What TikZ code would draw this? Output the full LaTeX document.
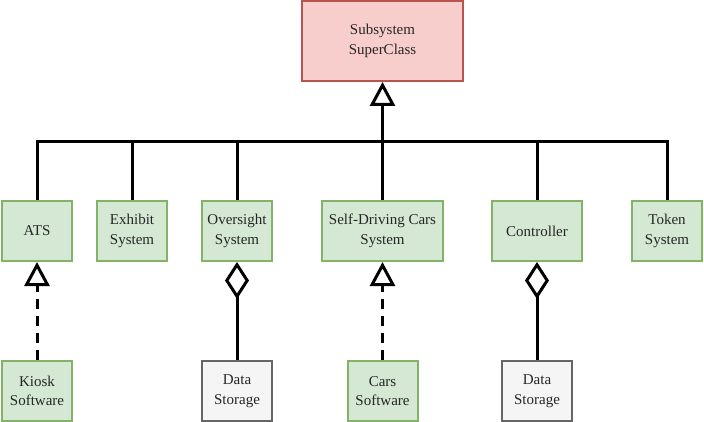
\documentclass[tikz,border=0pt]{standalone}
\usepackage{fontspec}
\setmainfont{Liberation Serif}
\usetikzlibrary{arrows.meta}
\definecolor{redfill}{HTML}{F8CECC}
\definecolor{redline}{HTML}{B85450}
\definecolor{greenfill}{HTML}{D5E8D4}
\definecolor{greenline}{HTML}{82B366}
\definecolor{greyfill}{HTML}{F5F5F5}
\definecolor{greyline}{HTML}{666666}
\begin{document}
\begin{tikzpicture}[x=1pt,y=-1pt,line width=3pt,
    box/.style={draw,line width=2pt,align=center,inner sep=0pt,
      minimum height=60pt,font=\fontsize{15}{19.5}\selectfont,text=black!85},
    super/.style={box,fill=redfill,draw=redline,minimum width=161pt,minimum height=80pt},
    sub/.style={box,fill=greenfill,draw=greenline},
    store/.style={box,fill=greyfill,draw=greyline},
    inherit/.style={-{Triangle[open,length=24pt,width=25pt,line width=3pt]}},
    realize/.style={inherit,dash pattern=on 10pt off 7pt},
    aggregate/.style={{Diamond[open,length=37pt,width=24pt,line width=3pt]}-}]
  \useasboundingbox (0,0) rectangle (704,422);
  % top class
  \node[super] (sup) at (382.5,41) {Subsystem\\SuperClass};
  % subsystems
  \node[sub,minimum width=70pt] (ats) at (37,231) {ATS};
  \node[sub,minimum width=70pt] (exhibit) at (132,231) {Exhibit\\System};
  \node[sub,minimum width=70pt] (oversight) at (237,231) {Oversight\\System};
  \node[sub,minimum width=121pt] (cars) at (382.5,231) {Self-Driving Cars\\System};
  \node[sub,minimum width=90pt] (controller) at (537,231) {Controller};
  \node[sub,minimum width=70pt] (token) at (667,231) {Token\\System};
  % bottom row
  \node[sub,minimum width=70pt] (kiosk) at (37,391) {Kiosk\\Software};
  \node[store,minimum width=70pt] (store1) at (237,391) {Data\\Storage};
  \node[sub,minimum width=70pt] (carsw) at (382.5,391) {Cars\\Software};
  \node[store,minimum width=70pt] (store2) at (537,391) {Data\\Storage};
  % bus
  \coordinate (bus) at (382.5,142);
  \draw[inherit] (bus) -- (sup.south);
  \foreach \n in {ats,exhibit,oversight,cars,controller,token}
    \draw (\n.north) |- (bus);
  \draw[realize] (kiosk) -- (ats);
  \draw[realize] (carsw) -- (cars);
  \draw[aggregate] (oversight) -- (store1);
  \draw[aggregate] (controller) -- (store2);
\end{tikzpicture}
\end{document}
